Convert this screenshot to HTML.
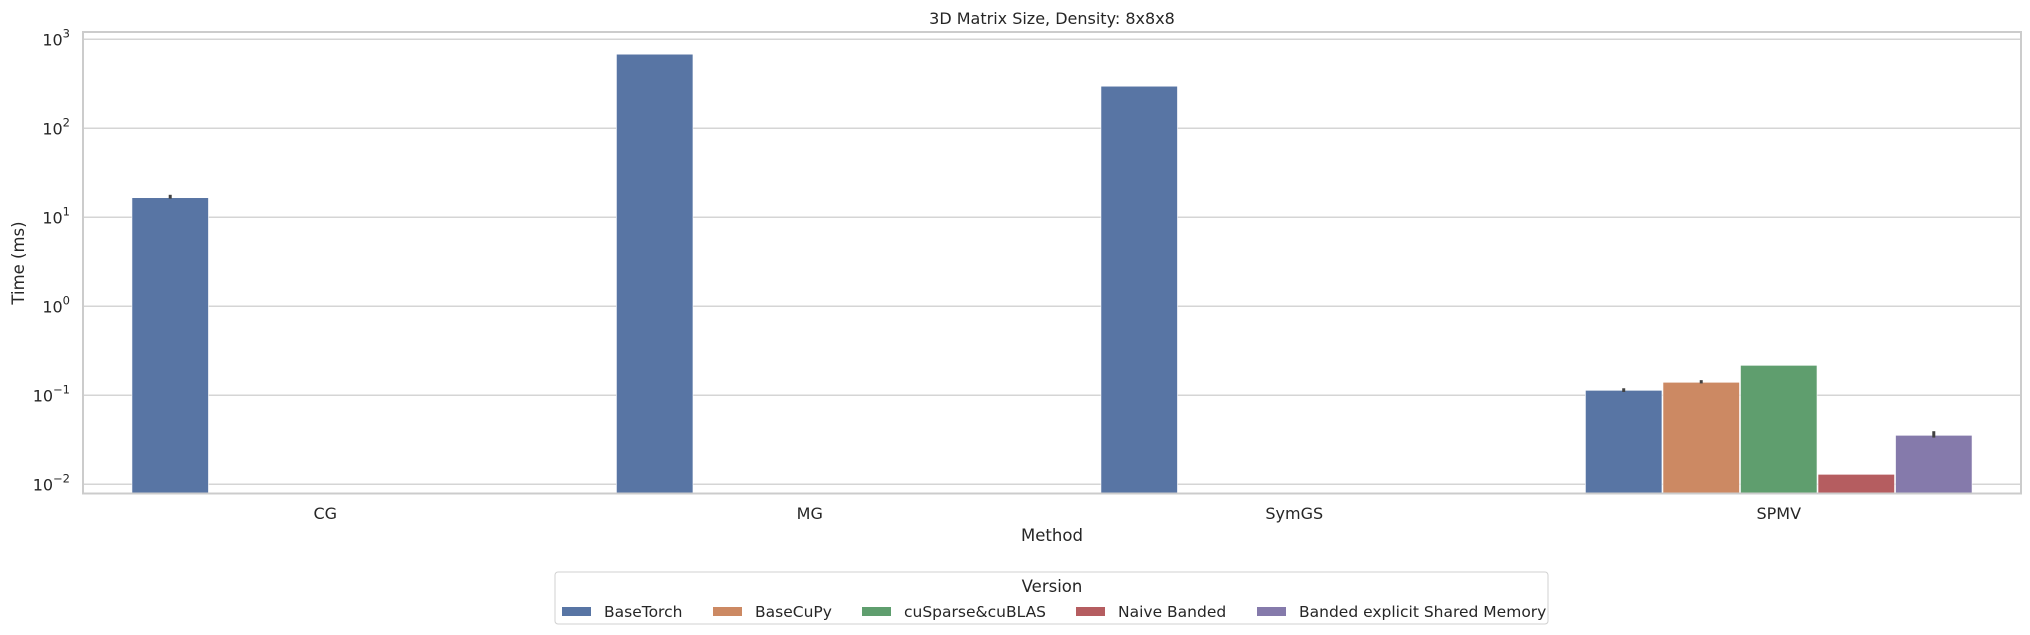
<!DOCTYPE html>
<html><head><meta charset="utf-8"><style>
html,body{margin:0;padding:0;background:#fff;}
svg{display:block;font-family:"DejaVu Sans","Liberation Sans",sans-serif;}
</style></head><body>
<svg id="chart" width="2030" height="635" viewBox="0 0 2030 635" xmlns="http://www.w3.org/2000/svg">
<text x="1052" y="24" font-size="16" text-anchor="middle" fill="#262626">3D Matrix Size, Density: 8x8x8</text>
<g id="grid"></g>
<g id="bars"></g>
<g id="errs"></g>
<rect x="83" y="32" width="1938" height="461.5" fill="none" stroke="#cccccc" stroke-width="2"/>
<g id="yticks"></g>
<g id="xticks"></g>
<text transform="translate(24,263) rotate(-90)" font-size="16.5" text-anchor="middle" fill="#262626">Time (ms)</text>
<text x="1052" y="541" font-size="16.5" text-anchor="middle" fill="#262626">Method</text>
<g id="legend">
<rect x="555" y="572" width="993" height="52" rx="3" fill="#fff" stroke="#d0d0d0" stroke-width="1"/>
<text x="1052" y="592" font-size="16.5" text-anchor="middle" fill="#262626">Version</text>
</g>
</svg>
<script>
const categories = ["CG","MG","SymGS","SPMV"];
const series = ["BaseTorch","BaseCuPy","cuSparse&cuBLAS","Naive Banded","Banded explicit Shared Memory"];
const colors = ["#5875a4","#cc8963","#5f9e6e","#b55d60","#857aab"];
const baseTorch = [16.6, 680, 297, 0.1137];
const baseCuPy = [null, null, null, 0.140];
const cuSparse = [null, null, null, 0.217];
const naiveBanded = [null, null, null, 0.01294];
const bandedShared = [null, null, null, 0.0355];
const errLo = [[16.2,null,null,0.109],[null,null,null,0.136],[null,null,null,null],[null,null,null,null],[null,null,null,0.0335]];
const errHi = [[17.9,null,null,0.120],[null,null,null,0.148],[null,null,null,null],[null,null,null,null],[null,null,null,0.0395]];
const yTickExps = [-2,-1,0,1,2,3];

const values = [baseTorch, baseCuPy, cuSparse, naiveBanded, bandedShared];
const NS = "http://www.w3.org/2000/svg";
const L = 83, R = 2021, T = 32, B = 493.5;
const y3 = 39.3, dec = 89;
function y(v){ return y3 + (3 - Math.log10(v)) * dec; }
const groupW = (R - L) / categories.length;
const barW = groupW * 0.8 / series.length;
function xc(ci){ return L + groupW * (ci + 0.5); }
function xb(ci, si){ return xc(ci) - groupW * 0.4 + si * barW; }
function mk(tag, attrs, parent){ const e = document.createElementNS(NS, tag); for (const k in attrs) e.setAttribute(k, attrs[k]); parent.appendChild(e); return e; }

const grid = document.getElementById('grid'), yt = document.getElementById('yticks');
yTickExps.forEach(p => {
  const yy = y(Math.pow(10, p));
  const g = mk('line', {x1: L, x2: R, y1: yy, y2: yy, stroke: '#d5d5d5', 'stroke-width': 1.5}, grid);
  
  
  const t = mk('text', {x: 70, y: yy + 6, 'font-size': 16, 'text-anchor': 'end', fill: '#262626'}, yt);
  
  
  t.textContent = '10';
  const s = mk('tspan', {dy: -8, 'font-size': 11.5}, t);
  s.textContent = p < 0 ? '\u2212' + (-p) : String(p);
});

const bars = document.getElementById('bars'), errs = document.getElementById('errs');
values.forEach((arr, si) => {
  arr.forEach((v, ci) => {
    if (v == null) return;
    const top = y(v);
    const r = mk('rect', {x: xb(ci, si) + 0.5, y: top, width: barW - 1, height: B - top, fill: colors[si], stroke: '#fff', 'stroke-width': 0.6}, bars);
    
    
    const lo = errLo[si][ci], hi = errHi[si][ci];
    if (lo != null && hi != null) {
      const xm = xb(ci, si) + barW / 2;
      const e = mk('line', {x1: xm, x2: xm, y1: y(lo), y2: y(hi), stroke: '#424242', 'stroke-width': 3}, errs);
      
      
    }
  });
});

const xt = document.getElementById('xticks');
categories.forEach((c, ci) => {
  const t = mk('text', {x: xc(ci), y: 519, 'font-size': 16, 'text-anchor': 'middle', fill: '#262626'}, xt);
  
  
  t.textContent = c;
});

const lg = document.getElementById('legend');
const lx = [562, 713, 862, 1076, 1257];
series.forEach((s, si) => {
  const g = mk('g', {}, lg);
  
  
  mk('rect', {x: lx[si], y: 607, width: 29, height: 9, fill: colors[si]}, g);
  const t = mk('text', {x: lx[si] + 42, y: 617, 'font-size': 15.5, fill: '#262626'}, g);
  t.textContent = s;
});
</script>
</body></html>
